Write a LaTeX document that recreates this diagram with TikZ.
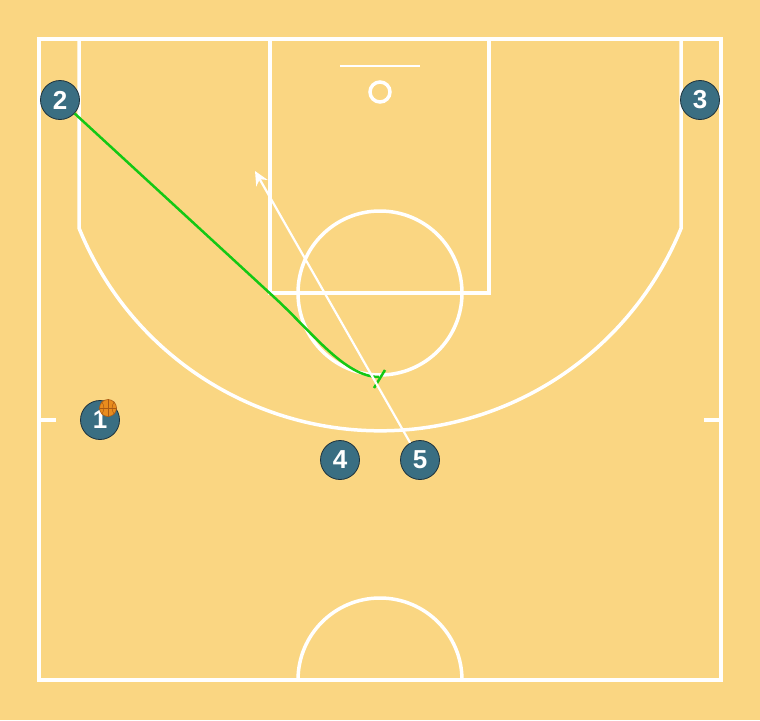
\documentclass[tikz,border=0pt]{standalone}
\usepackage{fontspec}
\setmainfont{Liberation Sans}
\usetikzlibrary{arrows.meta}
\definecolor{courtbg}{RGB}{250,214,130}
\definecolor{playerfill}{RGB}{58,110,130}
\definecolor{playeredge}{RGB}{30,50,60}
\definecolor{screengreen}{RGB}{20,200,20}
\definecolor{ballorange}{RGB}{232,140,30}
\definecolor{balldark}{RGB}{170,90,20}
\tikzset{
  courtline/.style={draw=white, line width=3.5pt},
  player/.style={circle, fill=playerfill, draw=playeredge, line width=0.8pt, minimum size=39pt, inner sep=0pt, text=white, font=\fontsize{26}{26}\selectfont\bfseries},
  screenpath/.style={draw=screengreen, line width=2.5pt},
  cutpath/.style={draw=white, line width=2.2pt, -{Stealth[length=14pt,width=13pt,fill=white]}},
}
\begin{document}
\begin{tikzpicture}[x=1pt,y=-1pt]
\useasboundingbox (0,0) rectangle (760,720);
\fill[courtbg] (0,0) rectangle (760,720);
\begin{scope}
\clip (0,0) rectangle (760,720);
% outline
\draw[courtline] (39,39) rectangle (721,680);
% lane
\draw[courtline] (270,39) -- (270,293) -- (489,293) -- (489,39);
% free throw circle
\draw[courtline] (380,293) circle[radius=82];
% three point
\draw[courtline] (79,39) -- (79,228) arc[start angle=157.9, end angle=22.1, radius=325] -- (681,39);
% backboard and rim
\draw[white, line width=1.5pt] (340,66) -- (420,66);
\draw[courtline] (380,92) circle[radius=10];
% side ticks
\draw[courtline] (39,420) -- (56,420);
\draw[courtline] (704,420) -- (721,420);
% half court circle
\draw[courtline] (298,680) arc[start angle=180, end angle=360, radius=82];
\end{scope}
% players
\node[player] (p2) at (60,100) {2};
\node[player] (p3) at (700,100) {3};
\node[player] (p1) at (100,420) {1};
\node[player] (p4) at (340,460) {4};
\node[player] (p5) at (420,460) {5};
% ball
\node[circle, fill=ballorange, draw=balldark, line width=0.6pt, minimum size=17pt, inner sep=0pt] (ball) at (108,408) {};
\draw[balldark, line width=0.6pt] (ball.north) -- (ball.south) (ball.west) -- (ball.east);
\draw[balldark, line width=0.5pt] (ball.north west) to[bend left=35] (ball.south west);
\draw[balldark, line width=0.5pt] (ball.north east) to[bend right=35] (ball.south east);
% screen path
\coordinate (scr) at (379,377);
\coordinate (bend) at (275,298);
\draw[screenpath] (p2) -- (bend) .. controls (312,332) and (345,377) .. (scr);
\draw[screenpath] (374,388) -- (385,370);
% cut
\coordinate (cutend) at (255,171);
\draw[cutpath] (p5) -- (cutend);
\end{tikzpicture}
\end{document}
